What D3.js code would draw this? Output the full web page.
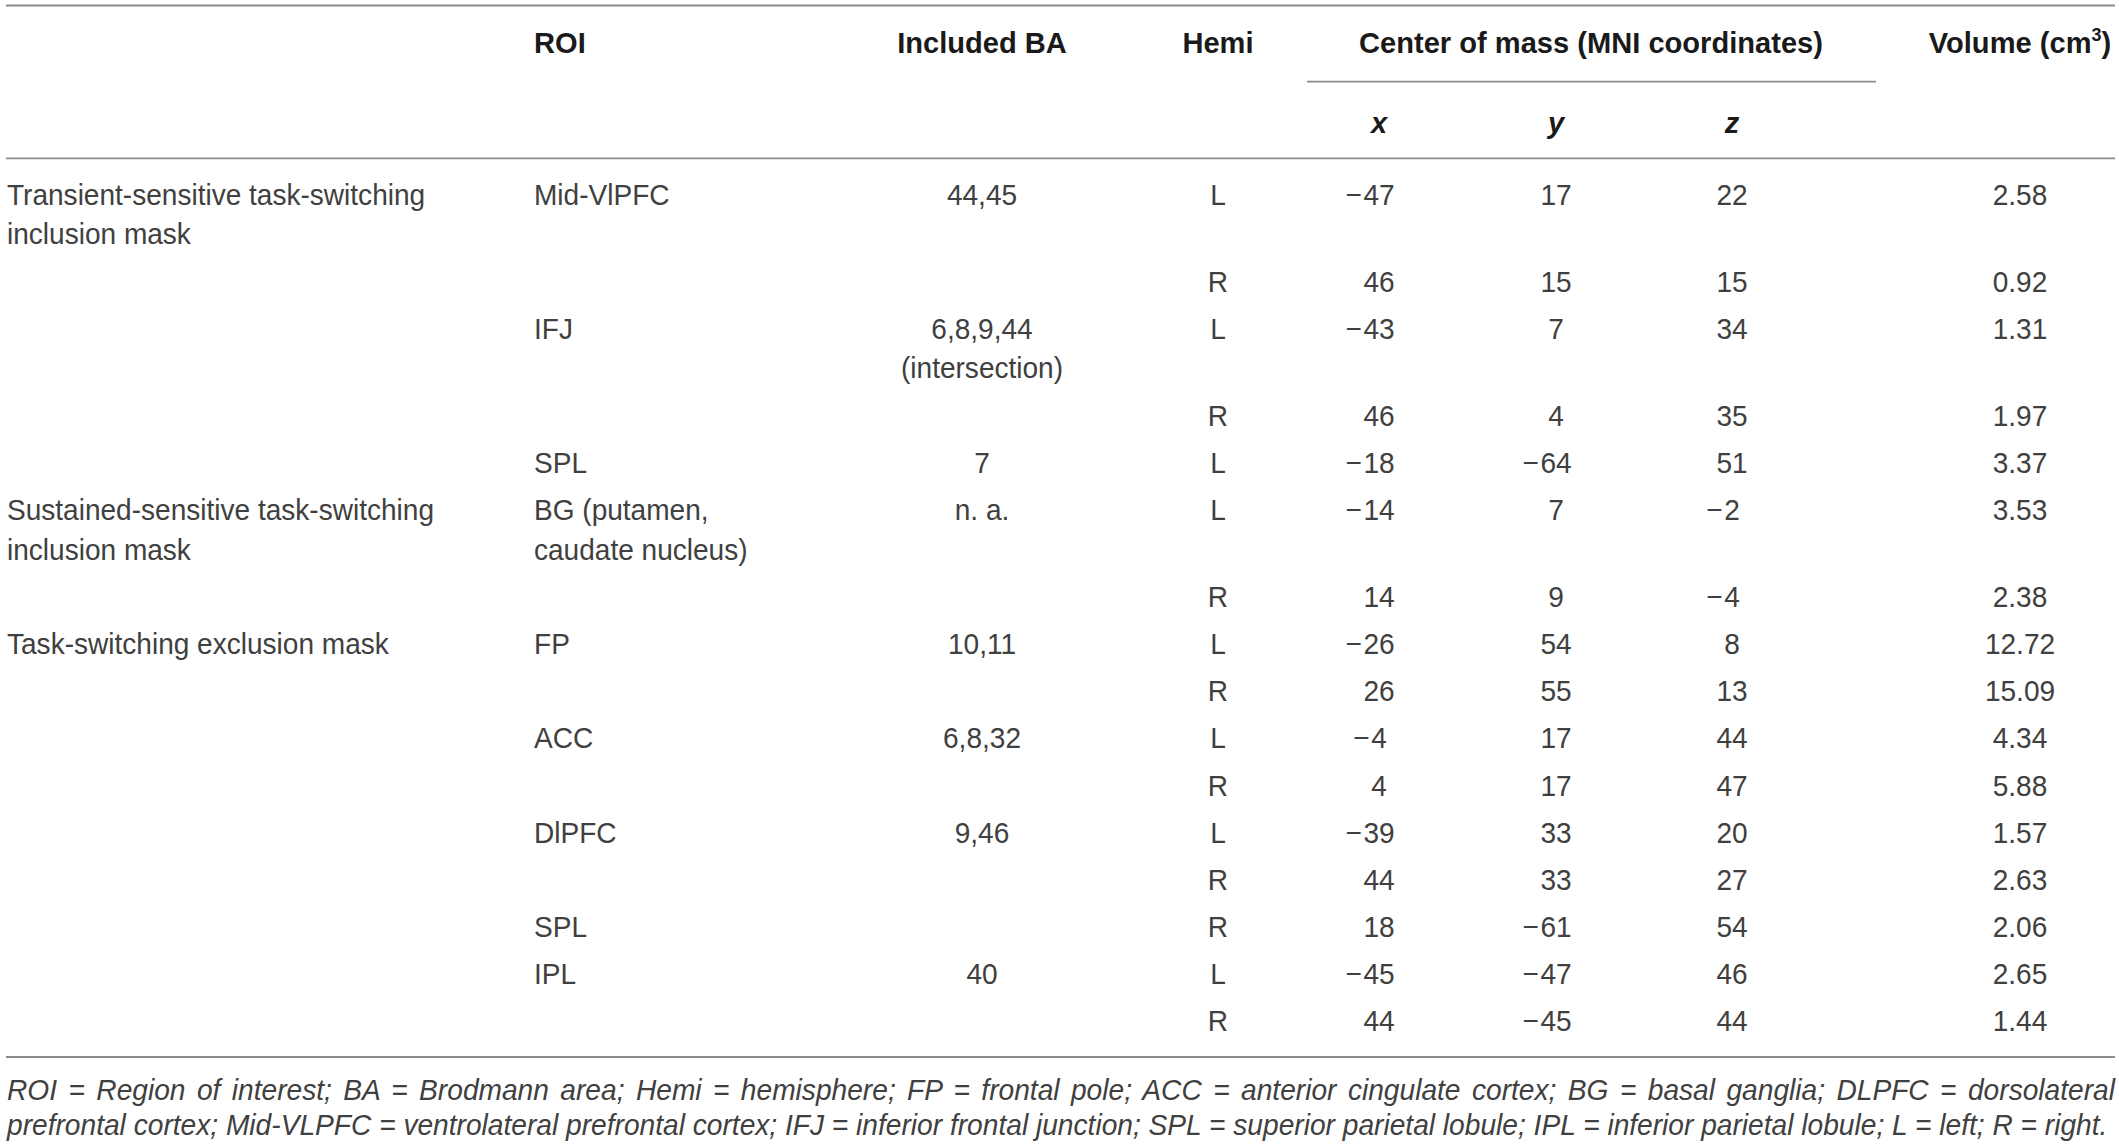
<!DOCTYPE html>
<html>
<head>
<meta charset="utf-8">
<script src="https://cdn.jsdelivr.net/npm/d3@7"></script>
<style>
  html, body { margin: 0; padding: 0; background: #ffffff; }
  svg { display: block; }
</style>
</head>
<body>
<div id="chart"></div>
<script>
// ---------- DATA ----------
const groupLabels = [
  ["Transient-sensitive task-switching", "inclusion mask"], [], [], [], [],
  ["Sustained-sensitive task-switching", "inclusion mask"], [],
  ["Task-switching exclusion mask"], [], [], [], [], [], [], [], []
];
const roiLabels = [
  ["Mid-VlPFC"], [], ["IFJ"], [], ["SPL"],
  ["BG (putamen,", "caudate nucleus)"], [],
  ["FP"], [], ["ACC"], [], ["DlPFC"], [], ["SPL"], ["IPL"], []
];
const baLabels = [
  ["44,45"], [], ["6,8,9,44", "(intersection)"], [], ["7"],
  ["n. a."], [],
  ["10,11"], [], ["6,8,32"], [], ["9,46"], [], [], ["40"], []
];
const hemiLabels = ["L","R","L","R","L","L","R","L","R","L","R","L","R","R","L","R"];
const xCoords = [-47, 46, -43, 46, -18, -14, 14, -26, 26, -4, 4, -39, 44, 18, -45, 44];
const yCoords = [17, 15, 7, 4, -64, 7, 9, 54, 55, 17, 17, 33, 33, -61, -47, -45];
const zCoords = [22, 15, 34, 35, 51, -2, -4, 8, 13, 44, 47, 20, 27, 54, 46, 44];
const volumes = ["2.58","0.92","1.31","1.97","3.37","3.53","2.38","12.72","15.09","4.34","5.88","1.57","2.63","2.06","2.65","1.44"];

const headerTop = ["ROI", "Included BA", "Hemi", "Center of mass (MNI coordinates)", "Volume (cm", "3", ")"];
const headerSub = ["x", "y", "z"];
const footnoteLines = [
  "ROI = Region of interest; BA = Brodmann area; Hemi = hemisphere; FP = frontal pole; ACC = anterior cingulate cortex; BG = basal ganglia; DLPFC = dorsolateral",
  "prefrontal cortex; Mid-VLPFC = ventrolateral prefrontal cortex; IFJ = inferior frontal junction; SPL = superior parietal lobule; IPL = inferior parietal lobule; L = left; R = right."
];

// ---------- LAYOUT ----------
const W = 2119, H = 1144;
const FONT = "'Liberation Sans', Arial, Helvetica, sans-serif";
const bodySize = 30, headSize = 30;
const bodySX = 0.935, headSX = 0.97;       // horizontal condensing
const bodyColor = "#404040", headColor = "#1a1a1a", ruleColor = "#8c8c8c";
const lineGap = 39.5;
const rowUnit = 47.1;
const extraLine = 40;
const firstBaseline = 204.5;

const svg = d3.select("#chart").append("svg")
  .attr("width", W).attr("height", H)
  .style("background", "#fff");

const colX = d3.scaleOrdinal()
  .domain(["group","roi","ba","hemi","x","y","z","vol","com"])
  .range([7, 534, 982, 1218, 1379, 1556, 1732, 2020, 1591]);

const nRows = hemiLabels.length;
const linesPerRow = d3.range(nRows).map(i =>
  Math.max(1, groupLabels[i].length, roiLabels[i].length, baLabels[i].length));
const rowHeights = linesPerRow.map(n => rowUnit + (n - 1) * extraLine);
const offsets = [0, ...d3.cumsum(rowHeights)].slice(0, nRows);
const yRow = d3.scaleLinear().domain([0, 1]).range([firstBaseline, firstBaseline + 1]);

function txt(g, x, y, str, anchor, sx) {
  return g.append("text")
    .attr("transform", `translate(${x},${y}) scale(${sx},1)`)
    .attr("text-anchor", anchor || "start")
    .text(str);
}

// ---------- RULES ----------
const rules = [
  {x1: 6, x2: 2115, y: 5.5},
  {x1: 1307, x2: 1876, y: 81.7},
  {x1: 6, x2: 2115, y: 158.3},
  {x1: 6, x2: 2115, y: 1057}
];
svg.selectAll("line.rule").data(rules).join("line")
  .attr("class", "rule")
  .attr("x1", d => d.x1).attr("x2", d => d.x2)
  .attr("y1", d => d.y).attr("y2", d => d.y)
  .attr("stroke", ruleColor).attr("stroke-width", 1.8);

// ---------- HEADER ----------
const head = svg.append("g")
  .attr("font-family", FONT).attr("font-weight", "bold")
  .attr("font-size", headSize).attr("fill", headColor);
const hy1 = 53.3, hy2 = 133.3;
txt(head, colX("roi"), hy1, headerTop[0], "start", headSX);
txt(head, colX("ba"), hy1, headerTop[1], "middle", headSX);
txt(head, colX("hemi"), hy1, headerTop[2], "middle", headSX);
txt(head, colX("com"), hy1, headerTop[3], "middle", headSX);
const vol = head.append("text")
  .attr("transform", `translate(${colX("vol")},${hy1}) scale(${headSX},1)`)
  .attr("text-anchor", "middle");
vol.append("tspan").text(headerTop[4]);
vol.append("tspan").attr("font-size", headSize * 0.62).attr("dy", -12).text(headerTop[5]);
vol.append("tspan").attr("dy", 12).text(headerTop[6]);
headerSub.forEach(d => {
  txt(head, colX(d), hy2, d, "middle", headSX).attr("font-style", "italic");
});

// ---------- BODY ----------
const body = svg.append("g")
  .attr("font-family", FONT).attr("font-size", bodySize).attr("fill", bodyColor);

function multiLine(key, labels, anchor) {
  const g = body.append("g");
  labels.forEach((lines, i) => {
    lines.forEach((ln, j) => {
      txt(g, colX(key), yRow(offsets[i]) + j * lineGap, ln, anchor, bodySX);
    });
  });
}
multiLine("group", groupLabels, "start");
multiLine("roi", roiLabels, "start");
multiLine("ba", baLabels, "middle");

const gh = body.append("g");
hemiLabels.forEach((d, i) => txt(gh, colX("hemi"), yRow(offsets[i]), d, "middle", bodySX));

function numberColumn(key, values) {
  const g = body.append("g");
  values.forEach((v, i) => {
    const y = yRow(offsets[i]);
    const t = txt(g, colX(key), y, String(Math.abs(v)), "middle", bodySX);
    if (v < 0) {
      const w = t.node().getComputedTextLength() * bodySX;
      txt(g, colX(key) - w / 2 - 1.5, y, "\u2212", "end", bodySX);
    }
  });
}
numberColumn("x", xCoords);
numberColumn("y", yCoords);
numberColumn("z", zCoords);

const gv = body.append("g");
volumes.forEach((d, i) => txt(gv, colX("vol"), yRow(offsets[i]), d, "middle", bodySX));

// ---------- FOOTNOTE ----------
const foot = svg.append("g")
  .attr("font-family", FONT).attr("font-style", "italic")
  .attr("font-size", bodySize).attr("fill", bodyColor);
const left = 7, right1 = 2115, right2 = 2108;
const probe = foot.append("text").text(footnoteLines[1]);
const natural2 = probe.node().getComputedTextLength();
probe.remove();
const fSX = (right2 - left) / natural2;
const fBase = [1099.5, 1134.5];
footnoteLines.forEach((ln, i) => {
  const t = txt(foot, left, fBase[i], ln, "start", fSX);
  if (i === 0) {
    const nat = t.node().getComputedTextLength();
    const spaces = (ln.match(/ /g) || []).length;
    t.attr("word-spacing", ((right1 - left) / fSX - nat) / spaces);
  }
});
</script>
</body>
</html>
